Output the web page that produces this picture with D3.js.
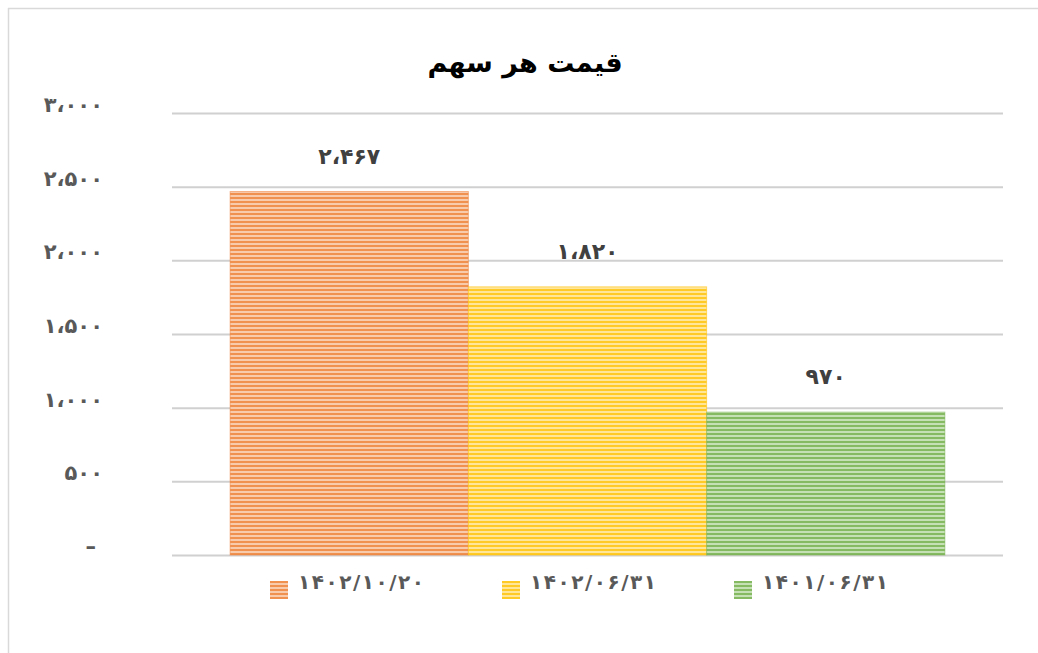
<!DOCTYPE html>
<html>
<head>
<meta charset="utf-8">
<script src="https://cdn.jsdelivr.net/npm/d3@7"></script>
<style>
  body { margin: 0; background: #fff; }
  svg { display: block; font-family: "DejaVu Sans", sans-serif; }
</style>
</head>
<body>
<svg id="chart"></svg>
<script>
// data
var seriesNames = ["۱۴۰۲/۱۰/۲۰", "۱۴۰۲/۰۶/۳۱", "۱۴۰۱/۰۶/۳۱"];
var seriesValues = [2467, 1820, 970];
var valueLabels = ["۲،۴۶۷", "۱،۸۲۰", "۹۷۰"];
var yTicks = [0, 500, 1000, 1500, 2000, 2500, 3000];
var yTickLabels = ["–", "۵۰۰", "۱،۰۰۰", "۱،۵۰۰", "۲،۰۰۰", "۲،۵۰۰", "۳،۰۰۰"];
var titleText = "قیمت هر سهم";

var darkColors = ["#ed7d31", "#ffc000", "#70ad47"];
var lightColors = ["#f8cbad", "#ffe699", "#c5e0b4"];

var W = 1038, H = 653;
var margin = {top: 113, right: 35, bottom: 98, left: 172};
var plotW = W - margin.left - margin.right,
    plotH = H - margin.top - margin.bottom;

var svg = d3.select("#chart").attr("width", W).attr("height", H);

// outer frame (left + top edge visible)
svg.append("path")
    .attr("d", "M8.5," + H + "V8.5H" + W)
    .attr("fill", "none")
    .attr("stroke", "#d9d9d9")
    .attr("stroke-width", 1.5);

// striped fills
var defs = svg.append("defs");
seriesNames.forEach(function(s, i) {
  var p = defs.append("pattern")
      .attr("id", "pat" + i)
      .attr("patternUnits", "userSpaceOnUse")
      .attr("width", 8).attr("height", 4);
  p.append("rect").attr("width", 8).attr("height", 4).attr("fill", lightColors[i]);
  p.append("rect").attr("y", 0).attr("width", 8).attr("height", 2)
      .attr("fill", darkColors[i]).attr("opacity", 0.75);
});

var x = d3.scaleBand()
    .domain(seriesNames)
    .range([0, plotW])
    .paddingInner(0)
    .paddingOuter(0.244);

var y = d3.scaleLinear()
    .domain([0, 3000])
    .range([plotH, 0]);

var g = svg.append("g").attr("transform", "translate(" + margin.left + "," + margin.top + ")");

// gridlines
g.append("g")
    .selectAll("line")
    .data(yTicks)
    .join("line")
    .attr("x1", 0).attr("x2", plotW)
    .attr("y1", function(d) { return y(d) + 0.5; })
    .attr("y2", function(d) { return y(d) + 0.5; })
    .attr("stroke", "#d0d0d0")
    .attr("stroke-width", 2);

// y tick labels
g.append("g")
    .selectAll("text")
    .data(yTicks)
    .join("text")
    .attr("x", function(d) { return d === 0 ? -76 : -69; })
    .attr("y", function(d) { return y(d) - 1; })
    .attr("text-anchor", "end")
    .attr("fill", "#595959")
    .style("font-size", "21px")
    .style("font-weight", "bold")
    .text(function(d, i) { return yTickLabels[i]; });

// bars
g.append("g")
    .selectAll("rect")
    .data(seriesValues)
    .join("rect")
    .attr("x", function(d, i) { return x(seriesNames[i]); })
    .attr("y", function(d) { return y(d); })
    .attr("width", x.bandwidth())
    .attr("height", function(d) { return plotH - y(d); })
    .attr("fill", function(d, i) { return "url(#pat" + i + ")"; })
    .attr("stroke", function(d, i) { return darkColors[i]; })
    .attr("stroke-opacity", 0.5)
    .attr("stroke-width", 1);

// value labels
g.append("g")
    .selectAll("text")
    .data(seriesValues)
    .join("text")
    .attr("x", function(d, i) { return x(seriesNames[i]) + x.bandwidth() / 2; })
    .attr("y", function(d) { return y(d) - 28; })
    .attr("text-anchor", "middle")
    .attr("fill", "#404040")
    .style("font-size", "22px")
    .style("font-weight", "bold")
    .text(function(d, i) { return valueLabels[i]; });

// title
svg.append("text")
    .attr("x", 525)
    .attr("y", 72)
    .attr("text-anchor", "middle")
    .attr("fill", "#000")
    .style("font-size", "27px")
    .style("font-weight", "bold")
    .text(titleText);

// legend
var legend = svg.append("g").attr("transform", "translate(270,581)");
var item = legend.selectAll("g")
    .data(seriesNames)
    .join("g")
    .attr("transform", function(d, i) { return "translate(" + (i * 232) + ",0)"; });
item.append("rect")
    .attr("width", 18).attr("height", 18)
    .attr("fill", function(d, i) { return "url(#pat" + i + ")"; });
item.append("text")
    .attr("x", 28)
    .attr("y", 8)
    .attr("textLength", 126)
    .attr("lengthAdjust", "spacing")
    .attr("fill", "#595959")
    .style("font-size", "20px")
    .style("font-weight", "bold")
    .text(function(d) { return d; });
</script>
</body>
</html>
